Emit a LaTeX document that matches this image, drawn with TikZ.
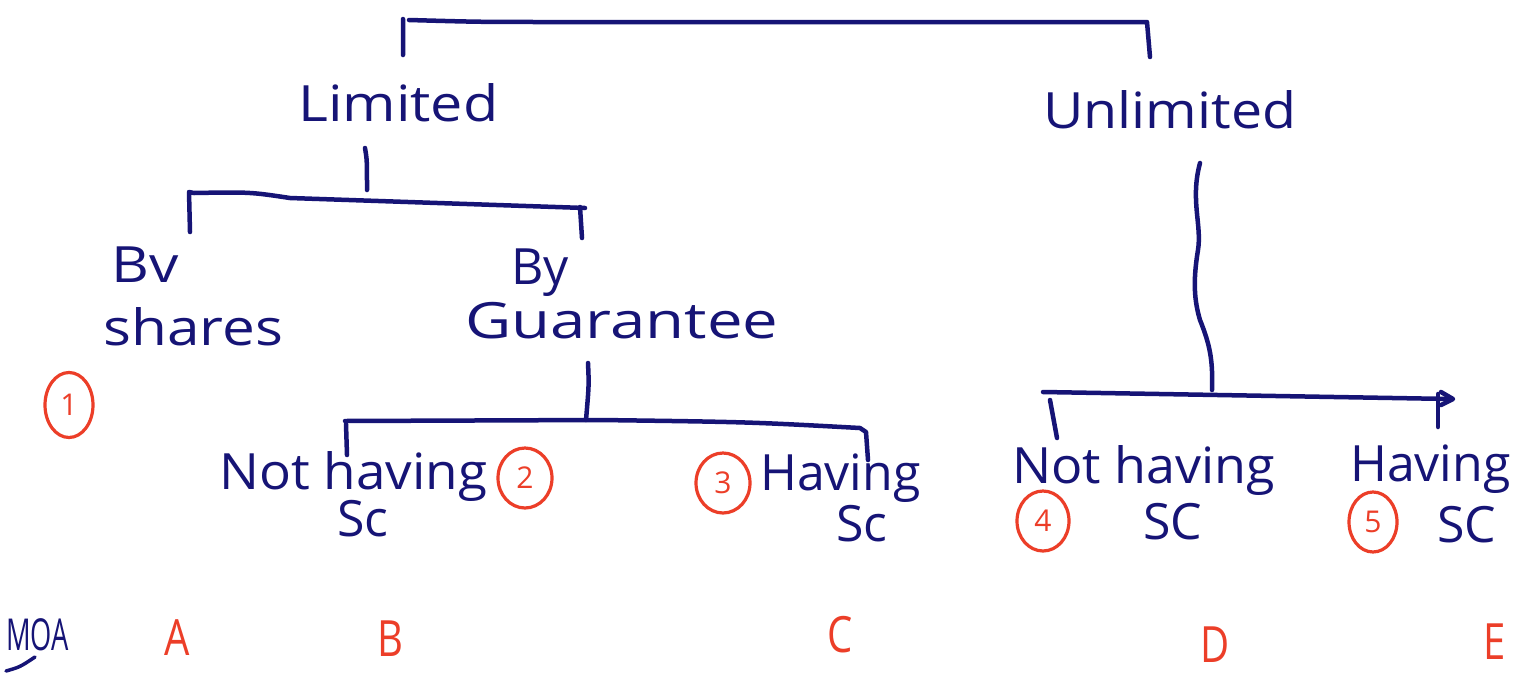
\documentclass[tikz,border=0pt]{standalone}
\usepackage{fontspec}
\usetikzlibrary{shapes.geometric}
\setmainfont{Open Sans}
\begin{document}
\begin{tikzpicture}[x=1pt,y=-1pt,
  ink/.style={draw=inkblue,line width=4.5pt,line cap=round,line join=round},
  word/.style={text=inkblue,inner sep=0pt,anchor=base west,transform shape,
    font=\fontsize{50}{54}\selectfont},
  redletter/.style={text=inkred,inner sep=0pt,anchor=base,xscale=0.8,transform shape,
    font=\fontsize{50}{54}\selectfont},
  num/.style={text=inkred,draw=inkred,line width=3.2pt,ellipse,inner sep=0pt,
    minimum width=54pt,minimum height=60pt,font=\fontsize{30}{32}\selectfont}]
\definecolor{inkblue}{RGB}{22,20,118}
\definecolor{inkred}{RGB}{236,62,40}
\useasboundingbox[fill=white] (0,0) rectangle (1516,673);

% top split
\coordinate (t1) at (403,55);
\coordinate (t2) at (1150,57);
\draw[ink] (t1) -- (403,19) (409,20) .. controls (480,22) .. (560,22) -- (1147,22) -- (t2);

% headings
\node[word,xscale=1.15] (lim) at (298,121) {Limited};
\node[word,xscale=1.11] (unl) at (1043,128) {Unlimited};

% limited branch
\coordinate (l0) at (365,148);
\coordinate (l1) at (190,232);
\coordinate (l2) at (582,238);
\draw[ink] (l0) .. controls (367,160) .. (367,190);
\draw[ink] (l1) -- (189,192) -- (194,193) .. controls (250,192) .. (290,198) -- (585,208);
\draw[ink] (580,207) -- (l2);

\node[word,xscale=1.17] (bv) at (111,282) {Bv};
\node[word,xscale=1.17] (sh) at (103,345) {shares};
\node[word] (by) at (511,284) {By};
\node[word,xscale=1.27] (gu) at (465,338) {Guarantee};
\node[num,minimum width=48pt,minimum height=65pt] (n1) at (69,405) {1};

% guarantee branch
\coordinate (g0) at (588,363);
\coordinate (g1) at (347,455);
\coordinate (g2) at (868,460);
\draw[ink] (g0) .. controls (589,385) .. (586,420);
\draw[ink] (345,421) -- (600,420) .. controls (750,422) .. (860,428) -- (866,432) -- (g2);
\draw[ink] (346,424) -- (g1);

\node[word,xscale=1.06] (nh1) at (219,489) {Not having};
\node[word] (sc1) at (337,536) {Sc};
\node[num] (n2) at (525,478) {2};
\node[num] (n3) at (723,483) {3};
\node[word] (hv1) at (760,490) {Having};
\node[word] (sc2) at (836,541) {Sc};

% unlimited branch
\coordinate (u0) at (1200,163);
\coordinate (u1) at (1057,438);
\coordinate (u2) at (1438,427);
\draw[ink] (u0) .. controls (1190,200) and (1202,225) .. (1198,250)
  .. controls (1193,280) and (1194,300) .. (1200,320)
  .. controls (1210,345) and (1213,360) .. (1212,390);
\draw[ink] (1043,392) -- (1451,399);
\draw[ink] (1441,392) -- (1453,399) -- (1441,405);
\draw[ink] (1050,400) -- (u1);
\draw[ink] (1438,394) -- (u2);

\node[word,xscale=1.04] (nh2) at (1012,483) {Not having};
\node[num,minimum width=52pt] (n4) at (1043,521) {4};
\node[word] (sc3) at (1143,539) {SC};
\node[word] (hv2) at (1350,481) {Having};
\node[num,minimum width=48pt] (n5) at (1373,522) {5};
\node[word] (sc4) at (1437,542) {SC};

% memorandum row
\node[word,xscale=0.62,font=\fontsize{44}{48}\selectfont] (moa) at (6,650) {MOA};
\draw[ink,line width=3.5pt] (6,671) .. controls (20,667) .. (35,657);
\node[redletter] (ma) at (177,655) {A};
\node[redletter] (mb) at (390,656) {B};
\node[redletter] (mc) at (840,652) {C};
\node[redletter] (md) at (1215,662) {D};
\node[redletter] (me) at (1495,659) {E};
\end{tikzpicture}
\end{document}
